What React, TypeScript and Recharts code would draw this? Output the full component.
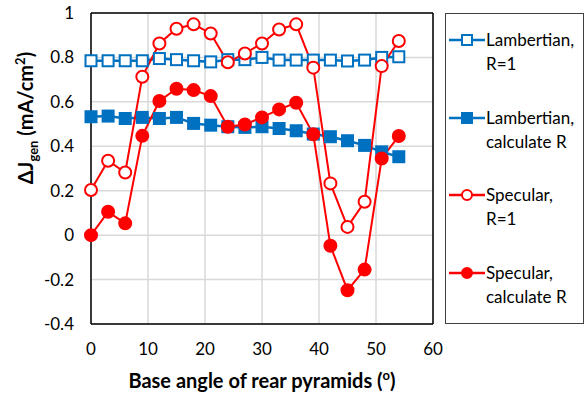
import {
  CartesianGrid,
  Label,
  Line,
  LineChart,
  ReferenceLine,
  XAxis,
  YAxis,
} from 'recharts';

const angles = [0, 3, 6, 9, 12, 15, 18, 21, 24, 27, 30, 33, 36, 39, 42, 45, 48, 51, 54];
const lambertianR1 = [0.785, 0.785, 0.785, 0.785, 0.795, 0.79, 0.785, 0.78, 0.79, 0.79, 0.8, 0.788, 0.788, 0.788, 0.788, 0.784, 0.788, 0.8, 0.803];
const lambertianCalc = [0.533, 0.536, 0.525, 0.53, 0.525, 0.53, 0.503, 0.495, 0.488, 0.485, 0.488, 0.48, 0.47, 0.455, 0.443, 0.425, 0.404, 0.375, 0.353];
const specularR1 = [0.203, 0.335, 0.282, 0.713, 0.863, 0.929, 0.949, 0.908, 0.778, 0.818, 0.863, 0.926, 0.949, 0.754, 0.233, 0.037, 0.15, 0.761, 0.874];
const specularCalc = [0, 0.105, 0.053, 0.447, 0.604, 0.659, 0.653, 0.626, 0.488, 0.498, 0.53, 0.566, 0.596, 0.454, -0.048, -0.248, -0.155, 0.345, 0.446];
const xTicks = [0, 10, 20, 30, 40, 50, 60];
const yTicks = [-0.4, -0.2, 0, 0.2, 0.4, 0.6, 0.8, 1];

const data = angles.map((angle, i) => ({
  angle,
  lambR1: lambertianR1[i],
  lambCalc: lambertianCalc[i],
  specR1: specularR1[i],
  specCalc: specularCalc[i],
}));

const BLUE = '#0070C0';
const RED = '#FF0000';
const FONT = 'Lato, "Open Sans", sans-serif';

const SquareDot = ({ cx, cy, filled }: any) => {
  if (cx == null || cy == null) return null;
  return (
    <rect
      x={cx - 5.5}
      y={cy - 5.5}
      width={11}
      height={11}
      fill={filled ? BLUE : '#fff'}
      stroke={BLUE}
      strokeWidth={2}
    />
  );
};

const CircleDot = ({ cx, cy, filled }: any) => {
  if (cx == null || cy == null) return null;
  return <circle cx={cx} cy={cy} r={6} fill={filled ? RED : '#fff'} stroke={RED} strokeWidth={2} />;
};

const legendItems = [
  { color: BLUE, shape: 'square', filled: false, lines: ['Lambertian,', 'R=1'] },
  { color: BLUE, shape: 'square', filled: true, lines: ['Lambertian,', 'calculate R'] },
  { color: RED, shape: 'circle', filled: false, lines: ['Specular,', 'R=1'] },
  { color: RED, shape: 'circle', filled: true, lines: ['Specular,', 'calculate R'] },
];

const LegendBox = () => (
  <div
    style={{
      position: 'absolute',
      left: 445,
      top: 13,
      width: 137,
      height: 309,
      border: '1px solid #404040',
      fontFamily: FONT,
      fontSize: 17,
      color: '#000',
    }}
  >
    {legendItems.map((item, i) => (
      <div key={i} style={{ position: 'absolute', left: 2, top: 14 + i * 77.5, display: 'flex' }}>
        <svg width={38} height={24} style={{ flex: 'none' }}>
          <line x1={1} x2={37} y1={12} y2={12} stroke={item.color} strokeWidth={2.5} />
          {item.shape === 'square' ? (
            <rect x={14} y={7} width={10} height={10} fill={item.filled ? item.color : '#fff'} stroke={item.color} strokeWidth={2} />
          ) : (
            <circle cx={19} cy={12} r={5} fill={item.filled ? item.color : '#fff'} stroke={item.color} strokeWidth={2} />
          )}
        </svg>
        <div style={{ lineHeight: '24px' }}>
          {item.lines.map((t) => (
            <div key={t}>{t}</div>
          ))}
        </div>
      </div>
    ))}
  </div>
);

const App = () => (
  <div style={{ position: 'absolute', left: 0, top: 0, width: 584, height: 394, background: '#fff' }}>
    <LineChart
      width={584}
      height={394}
      data={data}
      margin={{ top: 13, right: 151, bottom: 0, left: 0 }}
      style={{ fontFamily: FONT }}
    >
      <CartesianGrid stroke="#d9d9d9" strokeWidth={1.5} />
      <XAxis
        dataKey="angle"
        type="number"
        domain={[0, 60]}
        ticks={xTicks}
        tickLine={false}
        tickSize={0}
        tickMargin={19}
        axisLine={{ stroke: '#000', strokeWidth: 1.5 }}
        tick={{ fill: '#000', fontSize: 17 }}
        height={70}
      >
        <Label
          content={() => (
            <text x={262} y={388} textAnchor="middle" fontSize={20} fontWeight="bold" fill="#000">
              Base angle of rear pyramids (
              <tspan fontSize={13} dy={-8}>o</tspan>
              <tspan dy={8}>)</tspan>
            </text>
          )}
        />
      </XAxis>
      <YAxis
        type="number"
        domain={[-0.4, 1]}
        ticks={yTicks}
        tickLine={false}
        tickSize={0}
        tickMargin={17}
        axisLine={{ stroke: '#000', strokeWidth: 1.5 }}
        tick={{ fill: '#000', fontSize: 17 }}
        tickFormatter={(v: number) => String(v)}
        width={91}
      >
        <Label
          content={() => (
            <text
              x={0}
              y={0}
              transform="translate(33,118) rotate(-90)"
              textAnchor="middle"
              fontSize={20}
              fontWeight="bold"
              fill="#000"
            >
              ΔJ
              <tspan fontSize={13} dy={5}>gen</tspan>
              <tspan dy={-5}> (mA/cm</tspan>
              <tspan fontSize={13} dy={-8}>2</tspan>
              <tspan dy={8}>)</tspan>
            </text>
          )}
        />
      </YAxis>
      <ReferenceLine y={1} stroke="#000" strokeWidth={1.5} />
      <ReferenceLine x={60} stroke="#000" strokeWidth={1.5} />
      <Line
        dataKey="lambR1"
        stroke={BLUE}
        strokeWidth={2.5}
        isAnimationActive={false}
        dot={(p: any) => <SquareDot key={`a${p.index}`} {...p} filled={false} />}
      />
      <Line
        dataKey="lambCalc"
        stroke={BLUE}
        strokeWidth={2.5}
        isAnimationActive={false}
        dot={(p: any) => <SquareDot key={`b${p.index}`} {...p} filled />}
      />
      <Line
        dataKey="specR1"
        stroke={RED}
        strokeWidth={2}
        isAnimationActive={false}
        dot={(p: any) => <CircleDot key={`c${p.index}`} {...p} filled={false} />}
      />
      <Line
        dataKey="specCalc"
        stroke={RED}
        strokeWidth={2}
        isAnimationActive={false}
        dot={(p: any) => <CircleDot key={`d${p.index}`} {...p} filled />}
      />
    </LineChart>
    <LegendBox />
  </div>
);

export default App;
